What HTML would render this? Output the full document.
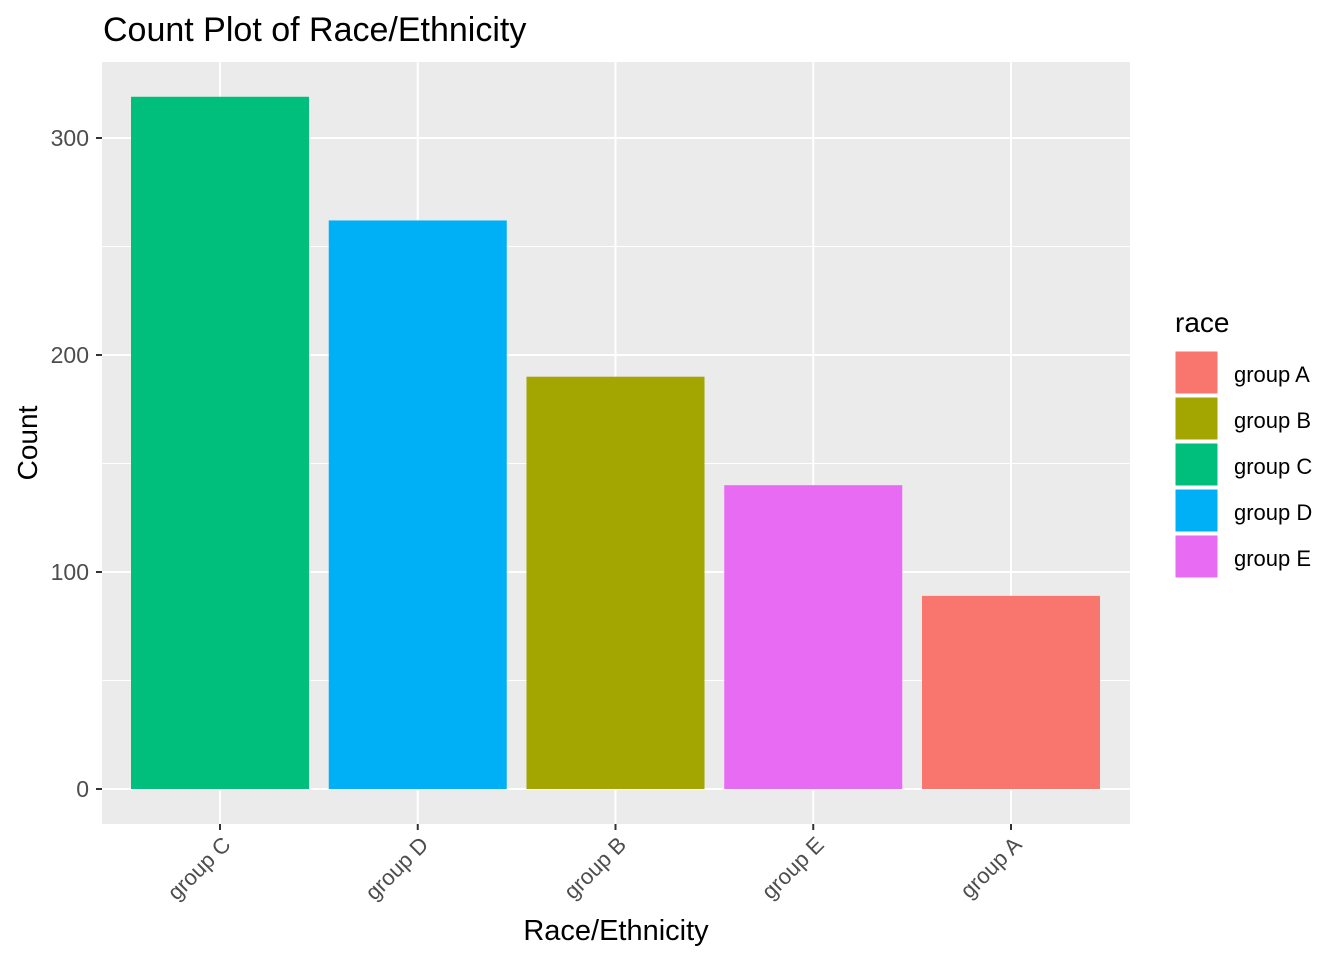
<!DOCTYPE html>
<html><head><meta charset="utf-8"><style>
body{margin:0;background:#fff;}
svg text{font-family:"Liberation Sans",Arial,sans-serif;}
</style></head><body>
<svg id="chart" width="1344" height="960" xmlns="http://www.w3.org/2000/svg">
<rect width="1344" height="960" fill="#fff"/>
<text x="103" y="41" font-size="34" fill="#000">Count Plot of Race/Ethnicity</text>
<rect x="102" y="62" width="1028" height="762" fill="#ebebeb"/>
<g id="grid"></g>
<g id="bars"></g>
<g id="axes"></g>
<text x="616" y="940" font-size="29" text-anchor="middle" fill="#000">Race/Ethnicity</text>
<text x="37" y="443" font-size="28" text-anchor="middle" fill="#000" transform="rotate(-90 37 443)">Count</text>
<g id="legend">
<text x="1175" y="332" font-size="28" fill="#000">race</text>
</g>
</svg>
<script>
const categories=["group C","group D","group B","group E","group A"];
const counts=[319,262,190,140,89];
const barColors=["#00BF7D","#00B0F6","#A3A500","#E76BF3","#F8766D"];
const yTicks=[0,100,200,300];
const legendLabels=["group A","group B","group C","group D","group E"];
const legendColors=["#F8766D","#A3A500","#00BF7D","#00B0F6","#E76BF3"];
const NS="http://www.w3.org/2000/svg";
function y(v){return 789-v*(651/300);}
function xc(i){return 220+i*197.75;}
function mk(t,a,p){const e=document.createElementNS(NS,t);for(const k in a)e.setAttribute(k,a[k]);p.appendChild(e);return e;}
const grid=document.getElementById('grid'),bars=document.getElementById('bars'),axes=document.getElementById('axes'),leg=document.getElementById('legend');
for(let k=0;k<yTicks.length-1;k++){const m=(yTicks[k]+yTicks[k+1])/2;const l=mk('line',{x1:102,x2:1130,y1:y(m),y2:y(m),stroke:'#fff','stroke-width':1},grid);

}
yTicks.forEach(v=>{const l=mk('line',{x1:102,x2:1130,y1:y(v),y2:y(v),stroke:'#fff','stroke-width':2},grid);


const t=mk('line',{x1:96,x2:102,y1:y(v),y2:y(v),stroke:'#333','stroke-width':2},axes);


const tx=mk('text',{x:89,y:y(v)+8,'font-size':23,'text-anchor':'end',fill:'#4d4d4d'},axes);tx.textContent=v;

});
categories.forEach((c,i)=>{const g=mk('line',{x1:xc(i),x2:xc(i),y1:62,y2:824,stroke:'#fff','stroke-width':2},grid);


const b=mk('rect',{x:xc(i)-89,y:y(counts[i]),width:178,height:y(0)-y(counts[i]),fill:barColors[i]},bars);


const t=mk('line',{x1:xc(i),x2:xc(i),y1:824,y2:830,stroke:'#333','stroke-width':2},axes);


const ax=xc(i)+12,ay=846;
const tx=mk('text',{x:ax,y:ay,'font-size':22,'text-anchor':'end',fill:'#4d4d4d',transform:`rotate(-45 ${ax} ${ay})`},axes);tx.textContent=c;

});
legendLabels.forEach((l,i)=>{const r=mk('rect',{x:1175,y:351+i*46,width:43,height:43,fill:legendColors[i],stroke:'#fff','stroke-width':1},leg);


const t=mk('text',{x:1234,y:382+i*46,'font-size':22,fill:'#000'},leg);t.textContent=l;

});
</script>
</body></html>
